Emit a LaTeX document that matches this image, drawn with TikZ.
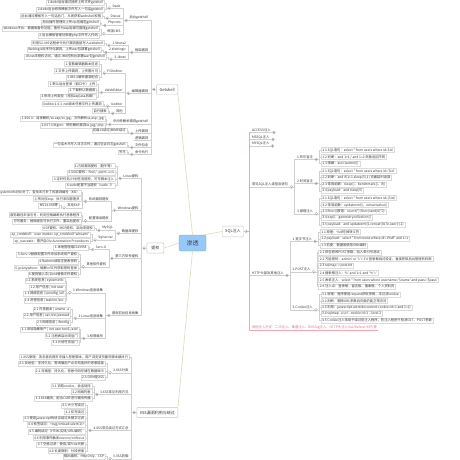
\documentclass[tikz,border=0pt]{standalone}
\usepackage{fontspec}
\newfontfamily\cjk{Noto Sans CJK SC}
\definecolor{linegray}{RGB}{208,208,208}
\definecolor{mainline}{RGB}{222,217,190}
\definecolor{pinkline}{RGB}{244,166,178}
\definecolor{pinktext}{RGB}{226,110,130}
\definecolor{rootfill}{RGB}{150,200,248}
\definecolor{rootdraw}{RGB}{115,170,230}
\definecolor{txt}{RGB}{55,55,55}
\tikzset{
  every node/.style={font=\cjk\fontsize{3.3}{3.9}\selectfont, text=txt},
  root/.style={draw=rootdraw, fill=rootfill, rounded corners=2pt, minimum width=27pt, minimum height=16pt, font=\cjk\fontsize{6}{7}\selectfont, text=black!75},
  topic/.style={draw=gray!45, fill=white, rounded corners=1pt, minimum height=8.5pt, inner xsep=3pt, font=\cjk\fontsize{4}{4.8}\selectfont},
  ln/.style={draw=linegray, line width=0.35pt},
  pk/.style={draw=pinkline, line width=0.45pt},
  mainln/.style={draw=mainline, line width=0.6pt},
  grp/.style={inner xsep=0.8pt, inner ysep=0.6pt, append after command={(\tikzlastnode.south west) edge[ln] (\tikzlastnode.south east)}},
  pgrp/.style={inner xsep=0.8pt, inner ysep=0.6pt, text=pinktext, append after command={(\tikzlastnode.south west) edge[pk] (\tikzlastnode.south east)}},
  leaf/.style={draw=gray!28, fill=white, inner xsep=1.2pt, inner ysep=0.8pt},
  mk/.style={circle, draw=gray!60, fill=white, inner sep=0pt, minimum size=3pt, path picture={\draw[gray!70, line width=0.3pt] ([xshift=-0.8pt]path picture bounding box.center) -- ([xshift=0.8pt]path picture bounding box.center);}},
  mkc/.style={circle, draw=gray!60, fill=white, inner sep=0pt, minimum size=3pt, path picture={\draw[gray!70, line width=0.3pt] ([xshift=-0.8pt]path picture bounding box.center) -- ([xshift=0.8pt]path picture bounding box.center) ([yshift=-0.8pt]path picture bounding box.center) -- ([yshift=0.8pt]path picture bounding box.center);}},
}
\begin{document}
\begin{tikzpicture}[x=1pt,y=-1pt]
\useasboundingbox[fill=white] (0,0) rectangle (460,460);
% Mitte und Hauptzweige
\node[root] (st) at (192.5,243) {渗透};
\node[topic,anchor=east] (gs) at (178,89.5) {Getshell};
\node[topic,anchor=east,minimum width=17pt] (tq) at (164,248) {提权};
\node[topic,anchor=west] (sq) at (222,231.5) {SQL注入};
\node[topic,anchor=east] (xs) at (178,412.5) {XSS漏洞利用与绕过};
\draw[mainln] (st.north) -- (gs.south east);
\draw[mainln] (st.west) -- (tq.east);
\draw[mainln] ([xshift=-2pt]st.north east) -- (sq.west);
\draw[mainln] (st.south) -- (xs.north east);
\node[mk] (mgs) at ([xshift=-2.5pt]gs.west) {};
\coordinate (sgs) at ([xshift=-1.5pt]mgs.west);
\node[mk] (mtq) at ([xshift=-2.5pt]tq.west) {};
\coordinate (stq) at ([xshift=-1.5pt]mtq.west);
\node[mk] (msq) at ([xshift=2.5pt]sq.east) {};
\coordinate (ssq) at ([xshift=1.5pt]msq.east);
\node[mk] (mxs) at ([xshift=-2.5pt]xs.west) {};
\coordinate (sxs) at ([xshift=-1.5pt]mxs.west);

% ---------------- Getshell ----------------
\node[grp,anchor=east] (gA) at ([xshift=-1.5pt]sgs |- 0,18) {后台getshell};
\node[grp,anchor=east] (gB) at ([xshift=-1.5pt]sgs |- 0,50) {框架漏洞};
\node[grp,anchor=east] (gC) at ([xshift=-1.5pt]sgs |- 0,91) {编辑器漏洞};
\node[grp,anchor=east] (gD) at ([xshift=-1.5pt]sgs |- 0,122) {中间件解析漏洞getshell};
\node[grp,anchor=east] (gE) at ([xshift=-1.5pt]sgs |- 0,131) {上传漏洞};
\node[grp,anchor=east] (gF) at ([xshift=-1.5pt]sgs |- 0,138) {逻辑漏洞};
\node[grp,anchor=east] (gG) at ([xshift=-1.5pt]sgs |- 0,145) {文件包含};
\node[grp,anchor=east] (gH) at ([xshift=-1.5pt]sgs |- 0,152) {命令执行};
\draw[ln] (gs.west) -- (mgs.east) (mgs.west) -- (sgs);
\draw[ln] (sgs) |- (gA.south east) (sgs) |- (gB.south east) (sgs) |- (gC.south east) (sgs) |- (gD.south east)
  (sgs) |- (gE.south east) (sgs) |- (gF.south east) (sgs) |- (gG.south east) (sgs) |- (gH.south east);
% Backend
\node[mk] (mA) at ([xshift=-2.3pt]gA.south west) {};
\coordinate (sA) at ([xshift=-1.5pt]mA.west);
\node[grp,anchor=east] (a1) at ([xshift=-1.5pt]sA |- 0,6) {Dede};
\node[grp,anchor=east] (a2) at ([xshift=-1.5pt]sA |- 0,16) {Discuz};
\node[grp,anchor=east] (a3) at ([xshift=-1.5pt]sA |- 0,23) {Phpcms};
\node[grp,anchor=east] (a4) at ([xshift=-1.5pt]sA |- 0,31.5) {帝国CMS};
\draw[ln] (gA.south west) -- (mA.east) (mA.west) -- (sA);
\draw[ln] (sA) |- (a1.south east) (sA) |- (a2.south east) (sA) |- (a3.south east) (sA) |- (a4.south east);
\node[mk] (ma1) at ([xshift=-2.3pt]a1.south west) {};
\coordinate (sa1) at ([xshift=-1.5pt]ma1.west);
\node[leaf,anchor=east] (a11) at ([xshift=-1.5pt]sa1 |- 0,3) {1.dede后台通过插件上传文件getshell};
\node[leaf,anchor=east] (a12) at ([xshift=-1.5pt]sa1 |- 0,9.5) {2.dede后台修改模板文件写入一句话getshell};
\draw[ln] (a1.south west) -- (ma1.east) (ma1.west) -- (sa1) (sa1) |- (a11.east) (sa1) |- (a12.east);
\node[mk] (ma2) at ([xshift=-2.3pt]a2.south west) {};
\coordinate (sa2) at ([xshift=-1.5pt]ma2.west);
\node[leaf,anchor=east] (a21) at ([xshift=-1.5pt]sa2 |- 0,16) {后台通过模板写入一句话后门，从而获取webshell权限};
\draw[ln] (a2.south west) -- (ma2.east) (ma2.west) -- (sa2) (sa2) |- (a21.east);
\node[mk] (ma3) at ([xshift=-2.3pt]a3.south west) {};
\coordinate (sa3) at ([xshift=-1.5pt]ma3.west);
\node[leaf,anchor=east] (a31) at ([xshift=-1.5pt]sa3 |- 0,23) {后台插件管理处上传zip压缩包getshell};
\draw[ln] (a3.south west) -- (ma3.east) (ma3.west) -- (sa3) (sa3) |- (a31.east);
\node[mk] (ma4) at ([xshift=-2.3pt]a4.south west) {};
\coordinate (sa4) at ([xshift=-1.5pt]ma4.west);
\node[leaf,anchor=east] (a41) at ([xshift=-1.5pt]sa4 |- 0,29) {Windows平台：数据库备份功能，备份为asp后缀可直接getshell};
\node[leaf,anchor=east] (a42) at ([xshift=-1.5pt]sa4 |- 0,35.5) {2.后台模板管理处新建php文件写入代码};
\draw[ln] (a4.south west) -- (ma4.east) (ma4.west) -- (sa4) (sa4) |- (a41.east) (sa4) |- (a42.east);
% Frameworks
\node[mk] (mB) at ([xshift=-2.3pt]gB.south west) {};
\coordinate (sB) at ([xshift=-1.5pt]mB.west);
\node[grp,anchor=east] (b1) at ([xshift=-1.5pt]sB |- 0,43) {1.Struts2};
\node[grp,anchor=east] (b2) at ([xshift=-1.5pt]sB |- 0,50) {2.Weblogic};
\node[grp,anchor=east] (b3) at ([xshift=-1.5pt]sB |- 0,57) {3.Jboss};
\draw[ln] (gB.south west) -- (mB.east) (mB.west) -- (sB) (sB) |- (b1.south east) (sB) |- (b2.south east) (sB) |- (b3.south east);
\node[mk] (mb1) at ([xshift=-2.3pt]b1.south west) {};
\node[leaf,anchor=east] (b11) at ([xshift=-3pt]mb1.west |- 0,43) {利用S2-045远程命令执行漏洞直接写入webshell};
\node[mk] (mb2) at ([xshift=-2.3pt]b2.south west) {};
\node[leaf,anchor=east] (b21) at ([xshift=-3pt]mb2.west |- 0,50) {Weblogic反序列化漏洞，上传war包部署getshell};
\node[mk] (mb3) at ([xshift=-2.3pt]b3.south west) {};
\node[leaf,anchor=east] (b31) at ([xshift=-3pt]mb3.west |- 0,57) {JBoss未授权访问，通过JMX控制台部署war包getshell};
\draw[ln] (b1.south west) -- (mb1.east) (mb1.west) -- ++(-1.5,0) |- (b11.east);
\draw[ln] (b2.south west) -- (mb2.east) (mb2.west) -- ++(-1.5,0) |- (b21.east);
\draw[ln] (b3.south west) -- (mb3.east) (mb3.west) -- ++(-1.5,0) |- (b31.east);
% Editors
\node[mk] (mC) at ([xshift=-2.3pt]gC.south west) {};
\coordinate (sC) at ([xshift=-1.5pt]mC.west);
\node[grp,anchor=east] (c1) at ([xshift=-1.5pt]sC |- 0,71) {FCKeditor};
\node[grp,anchor=east] (c2) at ([xshift=-1.5pt]sC |- 0,90.5) {eWebEditor};
\node[grp,anchor=east] (c3) at ([xshift=-1.5pt]sC |- 0,104) {Ueditor};
\node[grp,anchor=east] (c4) at ([xshift=-1.5pt]sC |- 0,111) {其他};
\draw[ln] (gC.south west) -- (mC.east) (mC.west) -- (sC) (sC) |- (c1.south east) (sC) |- (c2.south east) (sC) |- (c3.south east) (sC) |- (c4.south east);
\node[mk] (mc1) at ([xshift=-2.3pt]c1.south west) {};
\coordinate (sc1) at ([xshift=-1.5pt]mc1.west);
\node[leaf,anchor=east] (c11) at ([xshift=-1.5pt]sc1 |- 0,64) {1.查看编辑器版本信息};
\node[leaf,anchor=east] (c12) at ([xshift=-1.5pt]sc1 |- 0,71) {2.文件上传漏洞，上传图片马};
\node[leaf,anchor=east] (c13) at ([xshift=-1.5pt]sc1 |- 0,77.5) {3.IIS6.0解析漏洞配合};
\draw[ln] (c1.south west) -- (mc1.east) (mc1.west) -- (sc1) (sc1) |- (c11.east) (sc1) |- (c12.east) (sc1) |- (c13.east);
\node[mk] (mc2) at ([xshift=-2.3pt]c2.south west) {};
\coordinate (sc2) at ([xshift=-1.5pt]mc2.west);
\node[leaf,anchor=east] (c21) at ([xshift=-1.5pt]sc2 |- 0,84) {1.默认后台登录（弱口令）上传};
\node[leaf,anchor=east] (c22) at ([xshift=-1.5pt]sc2 |- 0,90.5) {2.下载默认数据库};
\node[leaf,anchor=east] (c23) at ([xshift=-1.5pt]sc2 |- 0,97) {3.修改上传类型（添加asp|asa后缀）};
\draw[ln] (c2.south west) -- (mc2.east) (mc2.west) -- (sc2) (sc2) |- (c21.east) (sc2) |- (c22.east) (sc2) |- (c23.east);
\node[mk] (mc3) at ([xshift=-2.3pt]c3.south west) {};
\node[leaf,anchor=east] (c31) at ([xshift=-3pt]mc3.west |- 0,104) {Ueditor1.4.3 .net版本任意文件上传漏洞};
\node[mk] (mc4) at ([xshift=-2.3pt]c4.south west) {};
\node[leaf,anchor=east] (c41) at ([xshift=-3pt]mc4.west |- 0,111) {自行搜索};
\draw[ln] (c3.south west) -- (mc3.east) (mc3.west) -- ++(-1.5,0) |- (c31.east);
\draw[ln] (c4.south west) -- (mc4.east) (mc4.west) -- ++(-1.5,0) |- (c41.east);
% Parser, upload, include, exec
\node[mk] (mD) at ([xshift=-2.3pt]gD.south west) {};
\coordinate (sD) at ([xshift=-1.5pt]mD.west);
\node[leaf,anchor=east] (d1) at ([xshift=-1.5pt]sD |- 0,119) {1.IIS6.0：目录解析/xx.asp/xx.jpg，文件解析xx.asp;.jpg};
\node[leaf,anchor=east] (d2) at ([xshift=-1.5pt]sD |- 0,125.5) {2.IIS7.0/Nginx：畸形解析漏洞xx.jpg/.php};
\draw[ln] (gD.south west) -- (mD.east) (mD.west) -- (sD) (sD) |- (d1.east) (sD) |- (d2.east);
\node[mk] (mE) at ([xshift=-2.3pt]gE.south west) {};
\node[leaf,anchor=east] (e1) at ([xshift=-3pt]mE.west |- 0,131) {前端JS绕过|MIME绕过};
\draw[ln] (gE.south west) -- (mE.east) (mE.west) -- ++(-1.5,0) |- (e1.east);
\node[mk] (mG) at ([xshift=-2.3pt]gG.south west) {};
\node[leaf,anchor=east] (g1) at ([xshift=-3pt]mG.west |- 0,145) {一句话木马写入日志文件，通过包含日志getshell};
\draw[ln] (gG.south west) -- (mG.east) (mG.west) -- ++(-1.5,0) |- (g1.east);
\node[mk] (mH) at ([xshift=-2.3pt]gH.south west) {};
\node[leaf,anchor=east] (h1) at ([xshift=-3pt]mH.west |- 0,152) {写马};
\draw[ln] (gH.south west) -- (mH.east) (mH.west) -- ++(-1.5,0) |- (h1.east);

% ---------------- 提权 ----------------
\node[grp,anchor=east] (t1) at ([xshift=-1.5pt]stq |- 0,176) {Linux提权};
\node[grp,anchor=east] (t2) at ([xshift=-1.5pt]stq |- 0,208) {Windows提权};
\node[grp,anchor=east] (t3) at ([xshift=-1.5pt]stq |- 0,231) {数据库提权};
\node[grp,anchor=east] (t4) at ([xshift=-1.5pt]stq |- 0,256) {第三方软件提权};
\node[grp,anchor=east] (t5) at ([xshift=-1.5pt]stq |- 0,313) {提权前后信息收集};
\draw[ln] (tq.west) -- (mtq.east) (mtq.west) -- (stq);
\draw[ln] (stq) |- (t1.south east) (stq) |- (t2.south east) (stq) |- (t3.south east) (stq) |- (t4.south east) (stq) |- (t5.south east);
% Linux
\node[mk] (mt1) at ([xshift=-2.3pt]t1.south west) {};
\coordinate (st1) at ([xshift=-1.5pt]mt1.west);
\node[leaf,anchor=east] (t11) at ([xshift=-1.5pt]st1 |- 0,166) {1.内核漏洞提权（脏牛等）};
\node[leaf,anchor=east] (t12) at ([xshift=-1.5pt]st1 |- 0,172.5) {2.SUID提权：find / -perm -u=s};
\node[leaf,anchor=east] (t13) at ([xshift=-1.5pt]st1 |- 0,179) {3.定时任务/计划任务提权，可写脚本注入};
\node[leaf,anchor=east] (t14) at ([xshift=-1.5pt]st1 |- 0,185.5) {4.sudo配置不当提权（sudo -l）};
\draw[ln] (t1.south west) -- (mt1.east) (mt1.west) -- (st1) (st1) |- (t11.east) (st1) |- (t12.east) (st1) |- (t13.east) (st1) |- (t14.east);
% Windows
\node[mk] (mt2) at ([xshift=-2.3pt]t2.south west) {};
\coordinate (st2) at ([xshift=-1.5pt]mt2.west);
\node[grp,anchor=east] (t2a) at ([xshift=-1.5pt]st2 |- 0,199) {系统漏洞提权};
\node[grp,anchor=east] (t2b) at ([xshift=-1.5pt]st2 |- 0,218.5) {配置错误提权};
\draw[ln] (t2.south west) -- (mt2.east) (mt2.west) -- (st2) (st2) |- (t2a.south east) (st2) |- (t2b.south east);
\node[mk] (mt2a) at ([xshift=-2.3pt]t2a.south west) {};
\coordinate (st2a) at ([xshift=-1.5pt]mt2a.west);
\node[leaf,anchor=east] (t2a1) at ([xshift=-1.5pt]st2a |- 0,192.5) {systeminfo对比补丁，查找未打补丁的漏洞编号（KB）};
\node[leaf,anchor=east] (t2a2) at ([xshift=-1.5pt]st2a |- 0,199) {上传对应exp，执行添加管理员};
\node[grp,anchor=east] (t2a3) at ([xshift=-1.5pt]st2a |- 0,205.5) {常用EXP};
\draw[ln] (t2a.south west) -- (mt2a.east) (mt2a.west) -- (st2a) (st2a) |- (t2a1.east) (st2a) |- (t2a2.east) (st2a) |- (t2a3.south east);
\node[mk] (mt2a3) at ([xshift=-2.3pt]t2a3.south west) {};
\node[leaf,anchor=east] (t2a31) at ([xshift=-3pt]mt2a3.west |- 0,205.5) {MS14-068等};
\draw[ln] (t2a3.south west) -- (mt2a3.east) (mt2a3.west) -- ++(-1.5,0) |- (t2a31.east);
\node[mk] (mt2b) at ([xshift=-2.3pt]t2b.south west) {};
\coordinate (st2b) at ([xshift=-1.5pt]mt2b.west);
\node[leaf,anchor=east] (t2b1) at ([xshift=-1.5pt]st2b |- 0,215) {服务路径未加引号：利用空格截断执行恶意程序};
\node[leaf,anchor=east] (t2b2) at ([xshift=-1.5pt]st2b |- 0,221.5) {可写服务：替换服务可执行文件，重启后提权};
\draw[ln] (t2b.south west) -- (mt2b.east) (mt2b.west) -- (st2b) (st2b) |- (t2b1.east) (st2b) |- (t2b2.east);
% Datenbank
\node[mk] (mt3) at ([xshift=-2.3pt]t3.south west) {};
\coordinate (st3) at ([xshift=-1.5pt]mt3.west);
\node[grp,anchor=east] (t3a) at ([xshift=-1.5pt]st3 |- 0,228) {MySQL};
\node[grp,anchor=east] (t3b) at ([xshift=-1.5pt]st3 |- 0,237.5) {Sqlserver};
\draw[ln] (t3.south west) -- (mt3.east) (mt3.west) -- (st3) (st3) |- (t3a.south east) (st3) |- (t3b.south east);
\node[mk] (mt3a) at ([xshift=-2.3pt]t3a.south west) {};
\node[leaf,anchor=east] (t3a1) at ([xshift=-3pt]mt3a.west |- 0,228) {UDF提权、MOF提权、启动项提权};
\draw[ln] (t3a.south west) -- (mt3a.east) (mt3a.west) -- ++(-1.5,0) |- (t3a1.east);
\node[mk] (mt3b) at ([xshift=-2.3pt]t3b.south west) {};
\coordinate (st3b) at ([xshift=-1.5pt]mt3b.west);
\node[leaf,anchor=east] (t3b1) at ([xshift=-1.5pt]st3b |- 0,234.5) {xp\_cmdshell：exec master..xp\_cmdshell 'whoami'};
\node[leaf,anchor=east] (t3b2) at ([xshift=-1.5pt]st3b |- 0,241) {sp\_oacreate：需开启Ole Automation Procedures};
\draw[ln] (t3b.south west) -- (mt3b.east) (mt3b.west) -- (st3b) (st3b) |- (t3b1.east) (st3b) |- (t3b2.east);
% Drittsoftware
\node[mk] (mt4) at ([xshift=-2.3pt]t4.south west) {};
\coordinate (st4) at ([xshift=-1.5pt]mt4.west);
\node[grp,anchor=east] (t4a) at ([xshift=-1.5pt]st4 |- 0,247.5) {Serv-U};
\node[grp,anchor=east] (t4b) at ([xshift=-1.5pt]st4 |- 0,264.5) {其他软件提权};
\draw[ln] (t4.south west) -- (mt4.east) (mt4.west) -- (st4) (st4) |- (t4a.south east) (st4) |- (t4b.south east);
\node[mk] (mt4a) at ([xshift=-2.3pt]t4a.south west) {};
\node[leaf,anchor=east] (t4a1) at ([xshift=-3pt]mt4a.west |- 0,247.5) {1.本地管理端口43958};
\draw[ln] (t4a.south west) -- (mt4a.east) (mt4a.west) -- ++(-1.5,0) |- (t4a1.east);
\node[mk] (mt4b) at ([xshift=-2.3pt]t4b.south west) {};
\coordinate (st4b) at ([xshift=-1.5pt]mt4b.west);
\node[leaf,anchor=east] (t4b1) at ([xshift=-1.5pt]st4b |- 0,254.5) {3.Serv-U替换配置文件添加系统用户提权};
\node[leaf,anchor=east] (t4b2) at ([xshift=-1.5pt]st4b |- 0,261.5) {4.Radmin读取注册表密码};
\node[leaf,anchor=east] (t4b3) at ([xshift=-1.5pt]st4b |- 0,268) {5.pcAnywhere：破解cif文件获取密码登录};
\node[leaf,anchor=east] (t4b4) at ([xshift=-1.5pt]st4b |- 0,274.5) {6.搜狗输入法/Zend替换文件提权};
\draw[ln] (t4b.south west) -- (mt4b.east) (mt4b.west) -- (st4b) (st4b) |- (t4b1.east) (st4b) |- (t4b2.east) (st4b) |- (t4b3.east) (st4b) |- (t4b4.east);
% Informationen
\node[mk] (mt5) at ([xshift=-2.3pt]t5.south west) {};
\coordinate (st5) at ([xshift=-1.5pt]mt5.west);
\node[grp,anchor=east] (t5a) at ([xshift=-1.5pt]st5 |- 0,290.5) {1.Windows信息收集};
\node[grp,anchor=east] (t5b) at ([xshift=-1.5pt]st5 |- 0,316) {2.Linux信息收集};
\node[grp,anchor=east] (t5c) at ([xshift=-1.5pt]st5 |- 0,336) {3.权限维持};
\draw[ln] (t5.south west) -- (mt5.east) (mt5.west) -- (st5) (st5) |- (t5a.south east) (st5) |- (t5b.south east) (st5) |- (t5c.south east);
\node[mk] (mt5a) at ([xshift=-2.3pt]t5a.south west) {};
\coordinate (st5a) at ([xshift=-1.5pt]mt5a.west);
\node[leaf,anchor=east] (t5a1) at ([xshift=-1.5pt]st5a |- 0,281) {1.1 系统信息 | systeminfo};
\node[leaf,anchor=east] (t5a2) at ([xshift=-1.5pt]st5a |- 0,287.5) {1.2 用户信息 | net user};
\node[leaf,anchor=east] (t5a3) at ([xshift=-1.5pt]st5a |- 0,294) {1.3 网络信息 | ipconfig /all};
\node[leaf,anchor=east] (t5a4) at ([xshift=-1.5pt]st5a |- 0,300.5) {1.4 进程信息 | tasklist /svc};
\draw[ln] (t5a.south west) -- (mt5a.east) (mt5a.west) -- (st5a) (st5a) |- (t5a1.east) (st5a) |- (t5a2.east) (st5a) |- (t5a3.east) (st5a) |- (t5a4.east);
\node[mk] (mt5b) at ([xshift=-2.3pt]t5b.south west) {};
\coordinate (st5b) at ([xshift=-1.5pt]mt5b.west);
\node[leaf,anchor=east] (t5b1) at ([xshift=-1.5pt]st5b |- 0,309.5) {2.1 内核版本 | uname -a};
\node[leaf,anchor=east] (t5b2) at ([xshift=-1.5pt]st5b |- 0,316) {2.2 用户信息 | cat /etc/passwd};
\node[leaf,anchor=east] (t5b3) at ([xshift=-1.5pt]st5b |- 0,322.5) {2.3 网络信息 | ifconfig};
\draw[ln] (t5b.south west) -- (mt5b.east) (mt5b.west) -- (st5b) (st5b) |- (t5b1.east) (st5b) |- (t5b2.east) (st5b) |- (t5b3.east);
\node[mk] (mt5c) at ([xshift=-2.3pt]t5c.south west) {};
\coordinate (st5c) at ([xshift=-1.5pt]mt5c.west);
\node[leaf,anchor=east] (t5c1) at ([xshift=-1.5pt]st5c |- 0,329.5) {3.1 添加隐藏账户 | net user test\$ /add};
\node[leaf,anchor=east] (t5c2) at ([xshift=-1.5pt]st5c |- 0,336) {3.2 注册表启动项后门};
\node[leaf,anchor=east] (t5c3) at ([xshift=-1.5pt]st5c |- 0,342.5) {3.3 计划任务后门};
\draw[ln] (t5c.south west) -- (mt5c.east) (mt5c.west) -- (st5c) (st5c) |- (t5c1.east) (st5c) |- (t5c2.east) (st5c) |- (t5c3.east);

% ---------------- XSS ----------------
\node[leaf,anchor=east] (x1) at ([xshift=-1.5pt]sxs |- 0,357) {1.XSS原理：攻击者向网页中插入恶意脚本，用户浏览该页面时脚本被执行};
\node[grp,anchor=east] (x2) at ([xshift=-1.5pt]sxs |- 0,370.5) {2.XSS分类};
\node[grp,anchor=east] (x3) at ([xshift=-1.5pt]sxs |- 0,392) {3.XSS常见利用方式};
\node[grp,anchor=east] (x4) at ([xshift=-1.5pt]sxs |- 0,428) {4.XSS常见绕过方式汇总};
\node[grp,anchor=east] (x5) at ([xshift=-1.5pt]sxs |- 0,456.5) {5.XSS防御};
\draw[ln] (xs.west) -- (mxs.east) (mxs.west) -- (sxs);
\draw[ln] (sxs) |- (x1.east) (sxs) |- (x2.south east) (sxs) |- (x3.south east) (sxs) |- (x4.south east) (sxs) |- (x5.south east);
\node[mk] (mx2) at ([xshift=-2.3pt]x2.south west) {};
\coordinate (sx2) at ([xshift=-1.5pt]mx2.west);
\node[leaf,anchor=east] (x21) at ([xshift=-1.5pt]sx2 |- 0,363.5) {2.1 反射型：非持久化，需诱骗用户点击构造好的恶意链接};
\node[leaf,anchor=east] (x22) at ([xshift=-1.5pt]sx2 |- 0,371) {2.2 存储型：持久化，恶意代码存储在数据库中};
\node[leaf,anchor=east] (x23) at ([xshift=-1.5pt]sx2 |- 0,377.5) {2.3 DOM型XSS};
\draw[ln] (x2.south west) -- (mx2.east) (mx2.west) -- (sx2) (sx2) |- (x21.east) (sx2) |- (x22.east) (sx2) |- (x23.east);
\node[mk] (mx3) at ([xshift=-2.3pt]x3.south west) {};
\coordinate (sx3) at ([xshift=-1.5pt]mx3.west);
\node[leaf,anchor=east] (x31) at ([xshift=-1.5pt]sx3 |- 0,386) {3.1 窃取cookie，会话劫持};
\node[leaf,anchor=east] (x32) at ([xshift=-1.5pt]sx3 |- 0,392) {3.2 网络钓鱼};
\node[leaf,anchor=east] (x33) at ([xshift=-1.5pt]sx3 |- 0,398.5) {3.3 XSS蠕虫，配合CSRF进行蠕虫传播};
\draw[ln] (x3.south west) -- (mx3.east) (mx3.west) -- (sx3) (sx3) |- (x31.east) (sx3) |- (x32.east) (sx3) |- (x33.east);
\node[mk] (mx4) at ([xshift=-2.3pt]x4.south west) {};
\coordinate (sx4) at ([xshift=-1.5pt]mx4.west);
\node[leaf,anchor=east] (x41) at ([xshift=-1.5pt]sx4 |- 0,405.5) {4.1 大小写绕过};
\node[leaf,anchor=east] (x42) at ([xshift=-1.5pt]sx4 |- 0,412) {4.2 双写绕过};
\node[leaf,anchor=east] (x43) at ([xshift=-1.5pt]sx4 |- 0,418.5) {4.3 使用javascript伪协议绕过关键字过滤};
\node[leaf,anchor=east] (x44) at ([xshift=-1.5pt]sx4 |- 0,425) {4.4 标签绕过：<svg/onload=alert(1)>};
\node[leaf,anchor=east] (x45) at ([xshift=-1.5pt]sx4 |- 0,431.5) {4.5 编码绕过（HTML实体/URL编码）};
\node[leaf,anchor=east] (x46) at ([xshift=-1.5pt]sx4 |- 0,438) {4.6 利用事件触发onerror/onfocus};
\node[leaf,anchor=east] (x47) at ([xshift=-1.5pt]sx4 |- 0,444.5) {4.7 空格过滤：使用/或\%0a代替};
\node[leaf,anchor=east] (x48) at ([xshift=-1.5pt]sx4 |- 0,451) {4.8 长度限制：分段拼接};
\draw[ln] (x4.south west) -- (mx4.east) (mx4.west) -- (sx4) (sx4) |- (x41.east) (sx4) |- (x42.east) (sx4) |- (x43.east) (sx4) |- (x44.east)
  (sx4) |- (x45.east) (sx4) |- (x46.east) (sx4) |- (x47.east) (sx4) |- (x48.east);
\node[mk] (mx5) at ([xshift=-2.3pt]x5.south west) {};
\node[leaf,anchor=east] (x51) at ([xshift=-3pt]mx5.west |- 0,456.5) {输出编码、HttpOnly、CSP};
\draw[ln] (x5.south west) -- (mx5.east) (mx5.west) -- ++(-1.5,0) |- (x51.east);

% ---------------- SQL注入 ----------------
\node[grp,anchor=west] (s1) at ([xshift=1.5pt]ssq |- 0,130) {ACCESS注入};
\node[grp,anchor=west] (s2) at ([xshift=1.5pt]ssq |- 0,137) {MSSQL注入};
\node[grp,anchor=west] (s3) at ([xshift=1.5pt]ssq |- 0,143.5) {MYSQL注入};
\node[grp,anchor=west] (s4) at ([xshift=1.5pt]ssq |- 0,184.5) {常见SQL注入类型及语句};
\node[grp,anchor=west] (s5) at ([xshift=1.5pt]ssq |- 0,273) {HTTP头部及其他注入};
\node[pgrp,anchor=west] (s6) at ([xshift=1.5pt]ssq |- 0,327.5) {其他注入方式：二次注入、堆叠注入、DNSlog注入、HTTP头注入(UA/Referer/XFF)等};
\draw[pk] (sq.east) -- (msq.west) (msq.east) -- (ssq);
\draw[pk] (ssq) |- (s1.south west) (ssq) |- (s2.south west) (ssq) |- (s3.south west) (ssq) |- (s4.south west) (ssq) |- (s5.south west) (ssq) |- (s6.south west);
\node[mkc] (ms1) at ([xshift=2.3pt]s1.south east) {};
\node[mkc] (ms2) at ([xshift=2.3pt]s2.south east) {};
\node[mkc] (ms3) at ([xshift=2.3pt]s3.south east) {};
\draw[ln] (s1.south east) -- (ms1.west) (s2.south east) -- (ms2.west) (s3.south east) -- (ms3.west);
% Typen
\node[mk] (ms4) at ([xshift=2.3pt]s4.south east) {};
\coordinate (ss4) at ([xshift=1.5pt]ms4.east);
\node[grp,anchor=west] (s4a) at ([xshift=1.5pt]ss4 |- 0,157) {1.布尔盲注};
\node[grp,anchor=west] (s4b) at ([xshift=1.5pt]ss4 |- 0,181) {2.时间盲注};
\node[grp,anchor=west] (s4c) at ([xshift=1.5pt]ss4 |- 0,211.5) {3.报错注入};
\draw[ln] (s4.south east) -- (ms4.west) (ms4.east) -- (ss4) (ss4) |- (s4a.south west) (ss4) |- (s4b.south west) (ss4) |- (s4c.south west);
\node[mk] (ms4a) at ([xshift=2.3pt]s4a.south east) {};
\coordinate (ss4a) at ([xshift=1.5pt]ms4a.east);
\node[leaf,anchor=west] (s4a1) at ([xshift=1.5pt]ss4a |- 0,150) {1.1 SQL语句：select * from users where id=\$id};
\node[leaf,anchor=west] (s4a2) at ([xshift=1.5pt]ss4a |- 0,157) {1.2 判断：and 1=1 / and 1=2 页面返回不同};
\node[leaf,anchor=west] (s4a3) at ([xshift=1.5pt]ss4a |- 0,163.5) {1.3 猜解：ascii(substr())};
\draw[ln] (s4a.south east) -- (ms4a.west) (ms4a.east) -- (ss4a) (ss4a) |- (s4a1.west) (ss4a) |- (s4a2.west) (ss4a) |- (s4a3.west);
\node[mk] (ms4b) at ([xshift=2.3pt]s4b.south east) {};
\coordinate (ss4b) at ([xshift=1.5pt]ms4b.east);
\node[leaf,anchor=west] (s4b1) at ([xshift=1.5pt]ss4b |- 0,171) {2.1 SQL语句：select * from users where id='\$id'};
\node[leaf,anchor=west] (s4b2) at ([xshift=1.5pt]ss4b |- 0,177.5) {2.2 判断：and if(1=1,sleep(5),1) 页面延时返回};
\node[leaf,anchor=west] (s4b3) at ([xshift=1.5pt]ss4b |- 0,184.5) {2.3 常用函数：sleep()、benchmark()、if()};
\node[leaf,anchor=west] (s4b4) at ([xshift=1.5pt]ss4b |- 0,191) {2.4 payload：and sleep(5)};
\draw[ln] (s4b.south east) -- (ms4b.west) (ms4b.east) -- (ss4b) (ss4b) |- (s4b1.west) (ss4b) |- (s4b2.west) (ss4b) |- (s4b3.west) (ss4b) |- (s4b4.west);
\node[mk] (ms4c) at ([xshift=2.3pt]s4c.south east) {};
\coordinate (ss4c) at ([xshift=1.5pt]ms4c.east);
\node[leaf,anchor=west] (s4c1) at ([xshift=1.5pt]ss4c |- 0,198) {3.1 SQL语句：select * from users where id=(\$id)};
\node[leaf,anchor=west] (s4c2) at ([xshift=1.5pt]ss4c |- 0,205) {3.2 常用函数：updatexml()、extractvalue()};
\node[leaf,anchor=west] (s4c3) at ([xshift=1.5pt]ss4c |- 0,211.5) {3.3 floor()报错：count(*),floor(rand(0)*2)};
\node[leaf,anchor=west] (s4c4) at ([xshift=1.5pt]ss4c |- 0,218) {3.4 exp()、geometrycollection()};
\node[leaf,anchor=west] (s4c5) at ([xshift=1.5pt]ss4c |- 0,225) {3.5 payload：and updatexml(1,concat(0x7e,user()),1)};
\draw[ln] (s4c.south east) -- (ms4c.west) (ms4c.east) -- (ss4c) (ss4c) |- (s4c1.west) (ss4c) |- (s4c2.west) (ss4c) |- (s4c3.west) (ss4c) |- (s4c4.west) (ss4c) |- (s4c5.west);
% Sonstige
\node[mk] (ms5) at ([xshift=2.3pt]s5.south east) {};
\coordinate (ss5) at ([xshift=1.5pt]ms5.east);
\node[grp,anchor=west] (s5a) at ([xshift=1.5pt]ss5 |- 0,239) {1.宽字节注入};
\node[grp,anchor=west] (s5b) at ([xshift=1.5pt]ss5 |- 0,269.5) {2.POST注入};
\node[grp,anchor=west] (s5c) at ([xshift=1.5pt]ss5 |- 0,307.5) {3.Cookie注入};
\draw[ln] (s5.south east) -- (ms5.west) (ms5.east) -- (ss5) (ss5) |- (s5a.south west) (ss5) |- (s5b.south west) (ss5) |- (s5c.south west);
\node[mk] (ms5a) at ([xshift=2.3pt]s5a.south east) {};
\coordinate (ss5a) at ([xshift=1.5pt]ms5a.east);
\node[leaf,anchor=west] (s5a1) at ([xshift=1.5pt]ss5a |- 0,232) {1.1 原理：\%df吃掉转义符};
\node[leaf,anchor=west] (s5a2) at ([xshift=1.5pt]ss5a |- 0,239) {1.2 payload：select * from news where id=1\%df' and 1=1};
\node[leaf,anchor=west] (s5a3) at ([xshift=1.5pt]ss5a |- 0,245.5) {1.3 前提：数据库使用GBK编码};
\draw[ln] (s5a.south east) -- (ms5a.west) (ms5a.east) -- (ss5a) (ss5a) |- (s5a1.west) (ss5a) |- (s5a2.west) (ss5a) |- (s5a3.west);
\node[mk] (ms5b) at ([xshift=2.3pt]s5b.south east) {};
\coordinate (ss5b) at ([xshift=1.5pt]ms5b.east);
\node[leaf,anchor=west] (s5b1) at ([xshift=1.5pt]ss5b |- 0,252.5) {2.1 抓包修改POST参数，加入单引号测试};
\node[leaf,anchor=west] (s5b2) at ([xshift=1.5pt]ss5b |- 0,259) {2.2 万能密码：admin' or '1'='1'\# 登录框绕过验证，直接获取后台管理员权限};
\node[leaf,anchor=west] (s5b3) at ([xshift=1.5pt]ss5b |- 0,266) {2.3 sqlmap -r post.txt};
\node[leaf,anchor=west] (s5b4) at ([xshift=1.5pt]ss5b |- 0,273) {2.4 搜索框注入：\%' and 1=1 and '\%'='};
\node[leaf,anchor=west] (s5b5) at ([xshift=1.5pt]ss5b |- 0,280) {2.5 表单注入：select * from users where username='\$name' and pass='\$pass'};
\node[leaf,anchor=west] (s5b6) at ([xshift=1.5pt]ss5b |- 0,286.5) {2.6 注入点：登录框、留言板、搜索框、个人资料页};
\draw[ln] (s5b.south east) -- (ms5b.west) (ms5b.east) -- (ss5b) (ss5b) |- (s5b1.west) (ss5b) |- (s5b2.west) (ss5b) |- (s5b3.west)
  (ss5b) |- (s5b4.west) (ss5b) |- (s5b5.west) (ss5b) |- (s5b6.west);
\node[mk] (ms5c) at ([xshift=2.3pt]s5c.south east) {};
\coordinate (ss5c) at ([xshift=1.5pt]ms5c.east);
\node[leaf,anchor=west] (s5c1) at ([xshift=1.5pt]ss5c |- 0,294.5) {3.1 原理：程序使用request获取参数，未过滤cookie};
\node[leaf,anchor=west] (s5c2) at ([xshift=1.5pt]ss5c |- 0,301) {3.2 判断：删除URL参数后页面仍能正常访问};
\node[leaf,anchor=west] (s5c3) at ([xshift=1.5pt]ss5c |- 0,307.5) {3.3 利用：javascript:alert(document.cookie=id=1 and 1=1)};
\node[leaf,anchor=west] (s5c4) at ([xshift=1.5pt]ss5c |- 0,314) {3.4 sqlmap -u url -{}-cookie id=1 -{}-level 2};
\node[leaf,anchor=west] (s5c5) at ([xshift=1.5pt]ss5c |- 0,320.5) {3.5 Cookie注入常用于绕过防注入程序，防注入程序只检测GET、POST参数};
\draw[ln] (s5c.south east) -- (ms5c.west) (ms5c.east) -- (ss5c) (ss5c) |- (s5c1.west) (ss5c) |- (s5c2.west) (ss5c) |- (s5c3.west)
  (ss5c) |- (s5c4.west) (ss5c) |- (s5c5.west);
\end{tikzpicture}
\end{document}
